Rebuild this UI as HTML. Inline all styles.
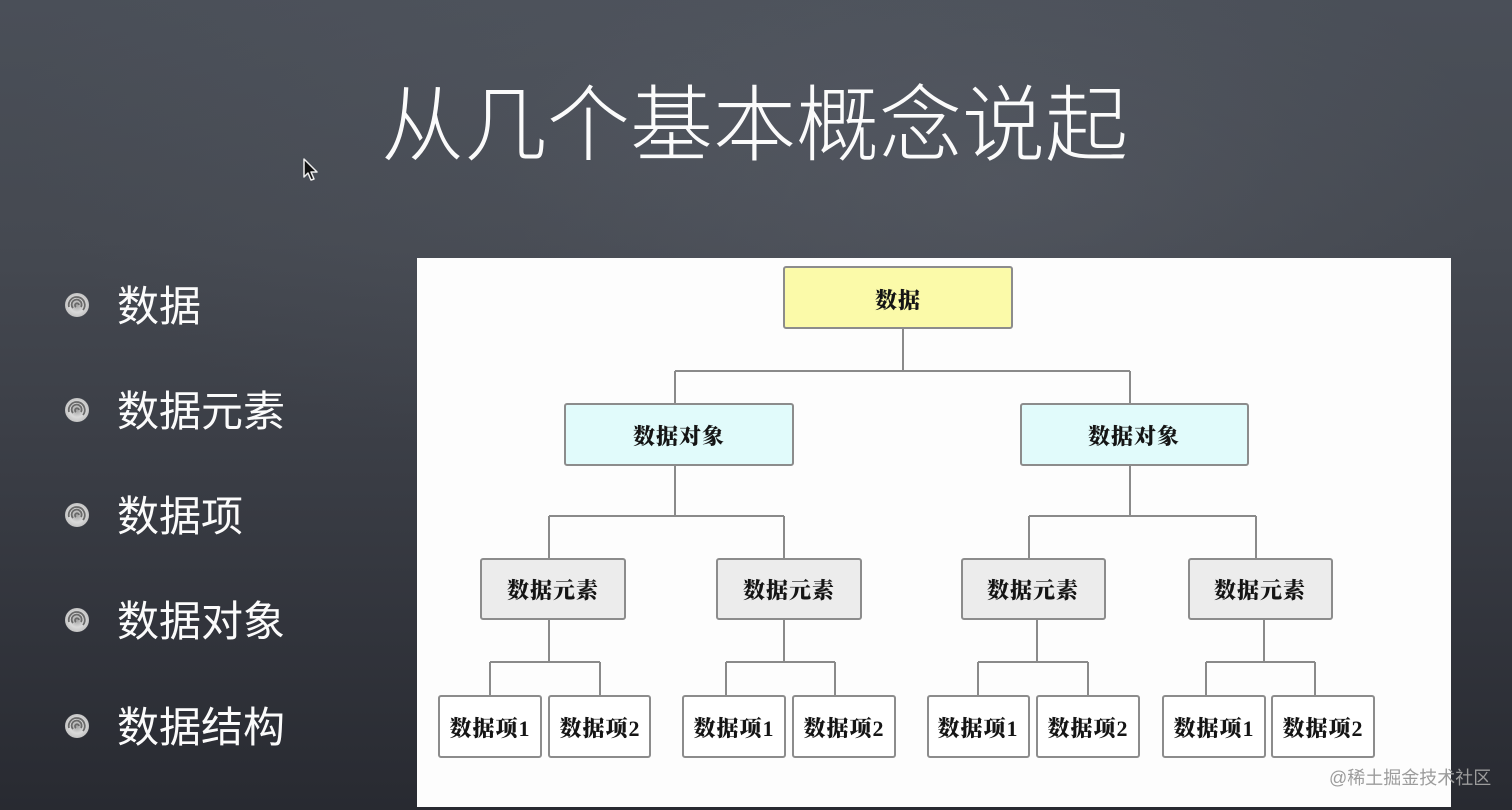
<!DOCTYPE html>
<html><head><meta charset="utf-8">
<style>
html,body{margin:0;padding:0;width:1512px;height:810px;overflow:hidden;}
body{
  background:
    radial-gradient(ellipse 700px 380px at 1000px 180px, rgba(100,105,115,0.30), rgba(100,105,115,0) 70%),
    radial-gradient(ellipse 900px 500px at 650px 120px, rgba(90,95,105,0.30), rgba(90,95,105,0) 70%),
    linear-gradient(180deg,#4a4f58 0%,#454951 30%,#393c44 60%,#282a31 100%);
}
svg{position:absolute;left:0;top:0;}
.t{font-family:"Liberation Sans","Noto Sans CJK SC",sans-serif;fill:#fbfbfb;}
.n{font-family:"Liberation Serif","Noto Serif CJK SC",serif;font-weight:900;fill:#151515;font-size:22px;letter-spacing:1px;}
.ln{stroke:#8a8a8a;stroke-width:2;fill:none;}
.bx{stroke:#8c8c8c;stroke-width:2;}
</style></head>
<body>
<svg width="1512" height="810" viewBox="0 0 1512 810" xmlns="http://www.w3.org/2000/svg">
  <defs>
    <radialGradient id="sp" cx="50%" cy="50%" r="50%">
      <stop offset="0" stop-color="#a0a0a0"/>
      <stop offset="0.6" stop-color="#dadada"/>
      <stop offset="1" stop-color="#c4c4c4"/>
    </radialGradient>
  </defs>

  <!-- title -->
  <text class="t" x="381" y="154" font-size="83" font-weight="300">从几个基本概念说起</text>

  <!-- cursor -->
  <polygon points="304,159 304,177 308,173 311,180 314,179 311,172 317,172" fill="#111" stroke="#eee" stroke-width="1.5" stroke-linejoin="round"/>

  <!-- bullets -->
  <g>
    <g transform="translate(77,305)">
      <circle r="12" fill="url(#sp)"/>
      <path d="M-8,2 A8,8 0 1 1 6,5 M-4,3 A5,5 0 1 1 4,2 M-1,2 A2,2 0 1 1 2,0" stroke="#6a6a6a" stroke-width="1.8" fill="none"/>
    </g>
    <g transform="translate(77,410)">
      <circle r="12" fill="url(#sp)"/>
      <path d="M-8,2 A8,8 0 1 1 6,5 M-4,3 A5,5 0 1 1 4,2 M-1,2 A2,2 0 1 1 2,0" stroke="#6a6a6a" stroke-width="1.8" fill="none"/>
    </g>
    <g transform="translate(77,515)">
      <circle r="12" fill="url(#sp)"/>
      <path d="M-8,2 A8,8 0 1 1 6,5 M-4,3 A5,5 0 1 1 4,2 M-1,2 A2,2 0 1 1 2,0" stroke="#6a6a6a" stroke-width="1.8" fill="none"/>
    </g>
    <g transform="translate(77,620)">
      <circle r="12" fill="url(#sp)"/>
      <path d="M-8,2 A8,8 0 1 1 6,5 M-4,3 A5,5 0 1 1 4,2 M-1,2 A2,2 0 1 1 2,0" stroke="#6a6a6a" stroke-width="1.8" fill="none"/>
    </g>
    <g transform="translate(77,726)">
      <circle r="12" fill="url(#sp)"/>
      <path d="M-8,2 A8,8 0 1 1 6,5 M-4,3 A5,5 0 1 1 4,2 M-1,2 A2,2 0 1 1 2,0" stroke="#6a6a6a" stroke-width="1.8" fill="none"/>
    </g>
  </g>
  <text class="t" x="117" y="321" font-size="42">数据</text>
  <text class="t" x="117" y="426" font-size="42">数据元素</text>
  <text class="t" x="117" y="531" font-size="42">数据项</text>
  <text class="t" x="117" y="636" font-size="42">数据对象</text>
  <text class="t" x="117" y="742" font-size="42">数据结构</text>

  <!-- panel -->
  <rect x="417" y="258" width="1034" height="549" fill="#fdfdfd"/>

  <!-- connectors -->
  <path class="ln" d="M903,328 V371 M675,371 H1130 M675,371 V404 M1130,371 V404"/>
  <path class="ln" d="M675,465 V516 M549,516 H784 M549,516 V559 M784,516 V559"/>
  <path class="ln" d="M1130,465 V516 M1029,516 H1256 M1029,516 V559 M1256,516 V559"/>
  <path class="ln" d="M549,619 V662 M490,662 H600 M490,662 V696 M600,662 V696"/>
  <path class="ln" d="M784,619 V662 M726,662 H835 M726,662 V696 M835,662 V696"/>
  <path class="ln" d="M1037,619 V662 M978,662 H1088 M978,662 V696 M1088,662 V696"/>
  <path class="ln" d="M1264,619 V662 M1206,662 H1315 M1206,662 V696 M1315,662 V696"/>

  <!-- root -->
  <rect class="bx" x="784" y="267" width="228" height="61" rx="2" fill="#fbfaa9"/>
  <text class="n" x="898" y="308" text-anchor="middle">数据</text>

  <!-- objects -->
  <rect class="bx" x="565" y="404" width="228" height="61" rx="2" fill="#e1fbfb"/>
  <text class="n" x="679" y="444" text-anchor="middle">数据对象</text>
  <rect class="bx" x="1021" y="404" width="227" height="61" rx="2" fill="#e1fbfb"/>
  <text class="n" x="1134" y="444" text-anchor="middle">数据对象</text>

  <!-- elements -->
  <rect class="bx" x="481" y="559" width="144" height="60" rx="2" fill="#ececec"/>
  <text class="n" x="553" y="598" text-anchor="middle">数据元素</text>
  <rect class="bx" x="717" y="559" width="144" height="60" rx="2" fill="#ececec"/>
  <text class="n" x="789" y="598" text-anchor="middle">数据元素</text>
  <rect class="bx" x="962" y="559" width="143" height="60" rx="2" fill="#ececec"/>
  <text class="n" x="1033" y="598" text-anchor="middle">数据元素</text>
  <rect class="bx" x="1189" y="559" width="143" height="60" rx="2" fill="#ececec"/>
  <text class="n" x="1260" y="598" text-anchor="middle">数据元素</text>

  <!-- leaves -->
  <g fill="#ffffff">
    <rect class="bx" x="439" y="696" width="102" height="61" rx="2"/>
    <rect class="bx" x="549" y="696" width="101" height="61" rx="2"/>
    <rect class="bx" x="683" y="696" width="102" height="61" rx="2"/>
    <rect class="bx" x="793" y="696" width="102" height="61" rx="2"/>
    <rect class="bx" x="928" y="696" width="101" height="61" rx="2"/>
    <rect class="bx" x="1037" y="696" width="102" height="61" rx="2"/>
    <rect class="bx" x="1163" y="696" width="102" height="61" rx="2"/>
    <rect class="bx" x="1272" y="696" width="102" height="61" rx="2"/>
  </g>
  <text class="n" x="490" y="736" text-anchor="middle" letter-spacing="0">数据项1</text>
  <text class="n" x="600" y="736" text-anchor="middle" letter-spacing="0">数据项2</text>
  <text class="n" x="734" y="736" text-anchor="middle" letter-spacing="0">数据项1</text>
  <text class="n" x="844" y="736" text-anchor="middle" letter-spacing="0">数据项2</text>
  <text class="n" x="978" y="736" text-anchor="middle" letter-spacing="0">数据项1</text>
  <text class="n" x="1088" y="736" text-anchor="middle" letter-spacing="0">数据项2</text>
  <text class="n" x="1214" y="736" text-anchor="middle" letter-spacing="0">数据项1</text>
  <text class="n" x="1323" y="736" text-anchor="middle" letter-spacing="0">数据项2</text>

  <!-- watermark -->
  <text x="1329" y="784" font-size="18" fill="#9c9c9c" style="font-family:'Liberation Sans','Noto Sans CJK SC',sans-serif;">@稀土掘金技术社区</text>
</svg>
</body></html>
